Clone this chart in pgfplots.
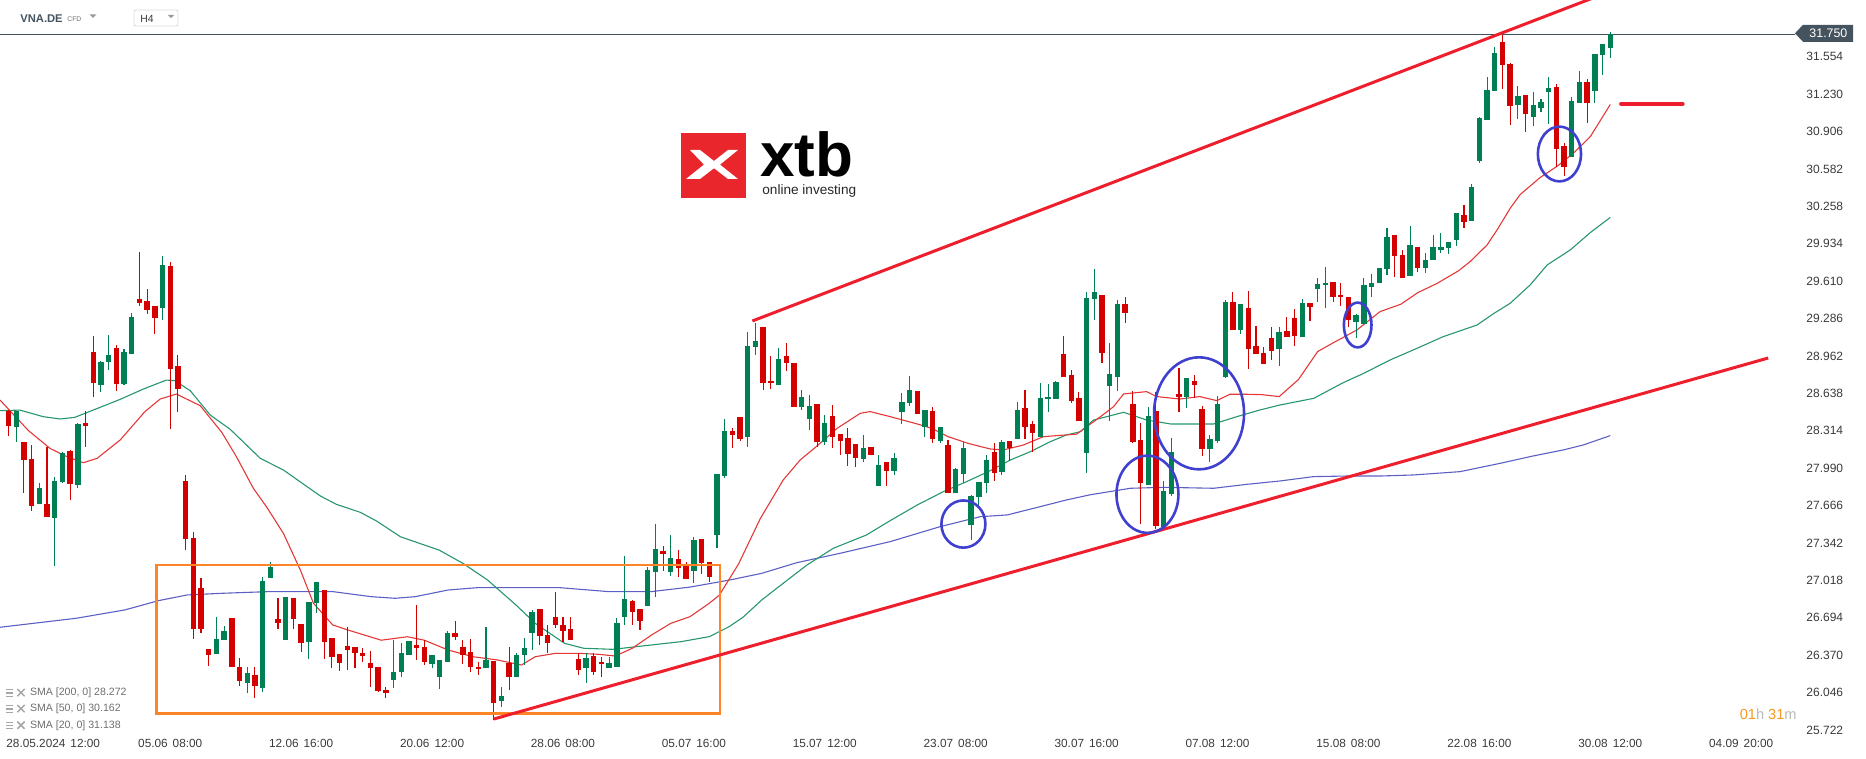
\documentclass[border=0pt]{standalone}
\usepackage{fontspec}
\setmainfont{Liberation Sans}
\usepackage{pgfplots}
\usepackage{pgfplotstable}
\pgfplotsset{compat=1.18}

\definecolor{cup}{RGB}{0,128,82}
\definecolor{cdown}{RGB}{212,0,0}
\definecolor{sma20}{RGB}{228,56,56}
\definecolor{sma50}{RGB}{40,150,108}
\definecolor{sma200}{RGB}{92,96,196}
\definecolor{trend}{RGB}{238,30,45}
\definecolor{boxorange}{RGB}{255,132,38}
\definecolor{ring}{RGB}{64,64,206}
\definecolor{axtext}{RGB}{58,58,58}
\definecolor{pricebox}{RGB}{69,83,94}
\definecolor{xtbred}{RGB}{232,38,44}
\definecolor{legtext}{RGB}{110,110,110}
\definecolor{timeor}{RGB}{247,150,30}
\definecolor{timegr}{RGB}{185,185,185}

% H4 candles, x = candle index (0 = 28.05 12:00), o h l c
\pgfplotstableread{
i o h l c
-3 28.349 28.485 28.219 28.485
0 27.682 27.861 27.682 27.818
2 27.561 27.913 27.145 27.879
3 27.873 28.130 27.860 28.121
5 27.847 28.381 27.821 28.372
8 28.713 28.918 28.652 28.910
9 28.912 29.143 28.840 28.970
11 28.722 29.022 28.713 28.996
12 28.981 29.334 28.975 29.299
16 29.380 29.827 29.276 29.749
23 26.383 26.698 26.383 26.510
24 26.502 26.623 26.502 26.583
27 26.127 26.271 26.046 26.213
29 26.089 27.050 26.054 27.013
30 27.042 27.180 27.040 27.137
32 26.502 26.871 26.502 26.871
35 26.487 26.834 26.334 26.834
36 26.820 27.007 26.739 27.007
46 26.156 26.502 26.083 26.228
47 26.228 26.473 26.184 26.386
48 26.372 26.496 26.372 26.496
51 26.294 26.372 26.256 26.372
52 26.178 26.329 26.075 26.329
53 26.314 26.583 26.314 26.565
58 26.256 26.612 26.256 26.329
60 25.976 26.098 25.924 26.017
62 26.178 26.386 26.178 26.372
63 26.372 26.516 26.285 26.430
64 26.560 26.762 26.415 26.747
71 26.256 26.386 26.132 26.343
74 26.256 26.357 26.256 26.300
75 26.271 26.689 26.271 26.646
76 26.704 27.229 26.632 26.857
79 26.799 27.137 26.799 27.108
80 27.094 27.506 26.871 27.290
82 27.094 27.411 27.059 27.212
85 27.102 27.397 26.992 27.368
88 27.411 27.940 27.296 27.940
89 27.923 28.416 27.908 28.312
92 28.263 29.173 28.177 29.049
93 29.043 29.245 28.971 29.092
96 28.714 29.028 28.714 28.933
99 28.523 28.667 28.494 28.604
100 28.413 28.621 28.321 28.529
102 28.220 28.451 28.191 28.379
107 28.067 28.278 28.046 28.162
109 27.839 28.104 27.839 28.018
111 27.969 28.119 27.931 28.078
112 28.480 28.639 28.373 28.566
113 28.558 28.788 28.529 28.667
115 28.350 28.494 28.257 28.494
117 28.229 28.350 28.211 28.350
119 27.778 27.989 27.778 27.983
120 27.937 28.220 27.859 28.168
121 27.498 27.758 27.368 27.749
122 27.744 27.870 27.671 27.870
123 27.865 28.104 27.772 28.061
125 27.960 28.234 27.931 28.220
127 28.243 28.566 28.243 28.494
130 28.263 28.731 28.263 28.601
131 28.586 28.719 28.480 28.609
132 28.592 28.748 28.592 28.737
136 28.125 29.519 27.951 29.461
137 29.453 29.715 29.274 29.519
139 28.702 29.072 28.402 28.806
140 28.783 29.447 28.662 29.412
144 27.845 28.517 27.845 28.442
146 27.484 27.879 27.460 27.796
147 27.767 28.249 27.749 28.127
149 28.604 28.774 28.509 28.774
152 28.156 28.278 28.041 28.240
153 28.229 28.615 28.205 28.546
154 28.783 29.447 28.768 29.432
156 29.187 29.412 29.152 29.412
161 29.022 29.216 28.875 29.173
164 29.129 29.453 29.129 29.424
166 29.539 29.635 29.432 29.586
167 29.574 29.730 29.375 29.591
171 29.259 29.326 29.115 29.317
172 29.239 29.635 29.239 29.577
173 29.562 29.672 29.476 29.591
174 29.591 29.727 29.591 29.727
175 29.712 30.068 29.663 29.990
178 29.655 30.088 29.655 29.923
180 29.721 29.851 29.677 29.793
181 29.793 30.010 29.793 29.909
182 29.880 30.030 29.857 29.903
183 29.900 29.946 29.845 29.946
184 29.966 30.197 29.917 30.197
186 30.134 30.452 30.134 30.423
187 30.654 31.035 30.636 31.026
188 31.006 31.381 31.006 31.266
189 31.260 31.641 31.260 31.589
192 31.136 31.300 31.014 31.214
194 31.035 31.251 30.954 31.136
195 31.107 31.185 31.078 31.165
196 31.251 31.375 30.971 31.280
199 30.688 31.202 30.688 31.170
200 31.156 31.433 31.156 31.335
202 31.260 31.577 31.150 31.577
203 31.572 31.664 31.393 31.664
204 31.629 31.765 31.540 31.750
}\up

\pgfplotstableread{
i o h l c
-4 28.485 28.494 28.271 28.358
-2 28.219 28.219 27.777 28.063
-1 28.069 28.190 27.622 27.665
1 27.679 28.173 27.570 27.570
4 28.138 28.147 27.717 27.855
6 28.381 28.485 28.176 28.358
7 28.996 29.134 28.609 28.730
10 29.031 29.057 28.661 28.722
13 29.455 29.862 29.397 29.423
14 29.438 29.542 29.328 29.363
15 29.394 29.394 29.155 29.293
17 29.741 29.775 28.332 28.852
18 28.875 28.970 28.479 28.678
19 27.879 27.930 27.284 27.379
20 27.385 27.440 26.510 26.594
21 26.949 27.036 26.560 26.594
22 26.424 26.424 26.277 26.372
25 26.692 26.692 26.271 26.271
26 26.271 26.343 26.106 26.147
28 26.199 26.271 26.002 26.106
31 26.684 26.863 26.594 26.646
33 26.863 26.863 26.594 26.684
34 26.640 26.640 26.401 26.479
37 26.935 26.935 26.334 26.487
38 26.522 26.522 26.256 26.357
39 26.381 26.381 26.236 26.300
40 26.450 26.612 26.242 26.415
41 26.444 26.444 26.256 26.386
42 26.386 26.430 26.314 26.363
43 26.306 26.409 26.098 26.256
44 26.271 26.271 26.055 26.063
45 26.069 26.098 25.997 26.046
49 26.458 26.805 26.329 26.435
50 26.444 26.502 26.285 26.314
54 26.565 26.669 26.502 26.531
55 26.444 26.502 26.294 26.372
56 26.401 26.508 26.228 26.265
57 26.271 26.314 26.199 26.248
59 26.323 26.323 25.809 25.959
61 26.300 26.438 26.069 26.184
65 26.767 26.767 26.458 26.536
66 26.545 26.632 26.386 26.473
67 26.698 26.920 26.603 26.632
68 26.632 26.700 26.487 26.583
69 26.594 26.700 26.502 26.502
70 26.334 26.386 26.199 26.242
72 26.363 26.386 26.199 26.227
73 26.314 26.357 26.184 26.294
77 26.837 26.850 26.632 26.747
78 26.770 26.770 26.588 26.669
81 27.272 27.316 27.102 27.249
83 27.203 27.281 27.050 27.122
84 27.143 27.174 27.033 27.033
86 27.377 27.377 27.070 27.172
87 27.174 27.174 27.007 27.050
90 28.312 28.335 28.168 28.278
91 28.434 28.434 28.229 28.243
94 29.216 29.216 28.667 28.731
95 28.745 28.962 28.673 28.725
97 28.962 29.072 28.835 28.898
98 28.898 28.898 28.517 28.517
101 28.543 28.543 28.177 28.220
103 28.442 28.537 28.162 28.263
104 28.284 28.284 28.104 28.229
105 28.249 28.335 28.012 28.113
106 28.200 28.200 27.997 28.081
108 28.177 28.177 28.104 28.104
110 28.041 28.041 27.839 27.969
114 28.659 28.659 28.457 28.457
116 28.486 28.517 28.211 28.240
118 28.191 28.234 27.778 27.778
124 28.133 28.211 27.882 27.946
126 28.226 28.226 28.055 28.168
128 28.509 28.667 28.243 28.350
129 28.370 28.399 28.128 28.298
133 28.979 29.138 28.777 28.777
134 28.797 28.841 28.558 28.575
135 28.595 28.653 28.402 28.402
138 29.490 29.490 28.898 28.991
141 29.412 29.470 29.251 29.337
142 28.546 28.662 28.211 28.220
143 28.234 28.379 27.507 27.859
145 28.486 28.653 27.460 27.489
148 28.633 28.855 28.480 28.610
150 28.745 28.797 28.595 28.711
151 28.503 28.532 28.099 28.156
155 29.432 29.519 29.187 29.187
157 29.375 29.528 28.849 29.022
158 29.048 29.222 28.979 28.979
159 28.991 29.043 28.893 28.893
160 29.115 29.210 28.927 29.008
162 29.178 29.297 29.129 29.129
163 29.288 29.366 29.048 29.135
165 29.424 29.424 29.268 29.389
168 29.600 29.600 29.432 29.476
169 29.490 29.591 29.395 29.470
170 29.470 29.470 29.216 29.274
176 30.010 30.010 29.643 29.828
177 29.837 29.880 29.634 29.634
179 29.903 29.903 29.692 29.721
185 30.183 30.270 30.068 30.125
190 31.684 31.742 31.274 31.482
191 31.491 31.502 30.963 31.127
193 31.222 31.222 30.905 31.058
197 31.289 31.318 30.602 30.755
198 30.781 30.804 30.521 30.602
201 31.335 31.358 30.977 31.156
}\down

% moving averages
\pgfplotstableread{
i v
-5.1 28.58
-1.4 28.315
1.4 28.161
3.6 28.089
5.7 28.037
7.5 28.075
10.5 28.234
13.7 28.479
15.7 28.589
17.8 28.632
20.9 28.531
23.7 28.300
25.6 28.089
27.8 27.815
29.5 27.656
31.7 27.425
33.9 27.108
35.6 26.820
38.1 26.632
40.0 26.590
44.4 26.500
47.8 26.530
50.0 26.500
53.1 26.415
56.3 26.357
59.4 26.330
62.6 26.285
64.4 26.357
67.0 26.386
70.1 26.386
72.6 26.378
74.8 26.363
77.0 26.430
79.5 26.545
82.0 26.646
84.5 26.704
87.0 26.820
88.3 26.890
90.8 27.160
93.6 27.550
96.6 27.888
98.8 28.061
100.9 28.177
103.6 28.335
106.6 28.465
107.9 28.480
110.5 28.436
114.0 28.373
115.9 28.335
118.0 28.263
120.6 28.205
123.5 28.156
125.2 28.148
127.8 28.191
130.4 28.263
134.7 28.285
137.8 28.436
139.5 28.523
140.8 28.633
143.8 28.653
145.1 28.610
148.1 28.589
150.7 28.610
152.9 28.575
154.6 28.630
156.8 28.630
158.7 28.627
161.0 28.610
163.5 28.757
166.0 29.000
168.0 29.075
171.1 29.187
174.1 29.346
176.8 29.410
179.0 29.510
181.5 29.590
184.3 29.700
185.8 29.779
188.0 29.923
189.3 30.053
191.0 30.241
192.3 30.360
194.9 30.508
197.2 30.610
199.2 30.717
201.4 30.861
204.0 31.140
}\smaT

\pgfplotstableread{
i v
-5.1 28.488
-2.5 28.493
0.5 28.436
2.7 28.416
4.6 28.430
7.9 28.517
10.5 28.586
13.5 28.675
16.5 28.753
17.6 28.748
19.6 28.661
22.2 28.450
24.8 28.326
28.7 28.075
31.7 27.974
36.5 27.749
38.6 27.676
41.7 27.607
43.8 27.532
46.9 27.396
48.1 27.368
51.9 27.281
55.0 27.166
58.2 27.022
61.9 26.805
64.4 26.646
68.2 26.473
70.7 26.430
74.5 26.421
78.3 26.450
83.3 26.487
87.0 26.531
89.6 26.618
91.4 26.700
93.8 26.848
96.6 26.993
99.7 27.152
103.1 27.296
107.4 27.411
110.5 27.536
114.0 27.671
117.4 27.787
120.4 27.873
123.5 27.969
126.1 28.061
128.7 28.133
131.3 28.220
133.4 28.278
135.2 28.306
136.9 28.407
138.6 28.436
140.8 28.474
143.8 28.407
146.9 28.373
152.5 28.373
155.5 28.436
158.5 28.494
161.1 28.537
165.5 28.595
169.3 28.730
172.0 28.812
175.4 28.927
178.9 29.028
182.3 29.129
186.7 29.230
188.9 29.331
191.0 29.418
193.6 29.577
195.8 29.750
198.8 29.880
201.4 30.030
204.0 30.162
}\smaF

\pgfplotstableread{
i v
-5.1 26.612
4.8 26.690
11.1 26.762
15.5 26.843
19.2 26.892
23.6 26.906
29.9 26.921
38.1 26.921
43.1 26.877
46.2 26.863
48.8 26.877
53.1 26.935
56.9 26.955
67.6 26.955
73.9 26.921
79.5 26.921
84.5 26.960
89.7 27.022
93.8 27.079
98.4 27.172
104.0 27.253
110.5 27.354
117.0 27.484
122.2 27.570
125.7 27.585
129.1 27.642
133.4 27.715
136.5 27.760
141.7 27.816
146.0 27.824
152.5 27.816
156.8 27.850
161.1 27.879
165.5 27.917
169.8 27.922
174.1 27.922
178.4 27.931
184.5 27.960
189.7 28.032
194.0 28.096
197.9 28.148
200.5 28.191
204.0 28.272
}\smaH

\begin{document}
\begin{tikzpicture}[x=1pt,y=1pt]
\useasboundingbox (0,0) rectangle (933,379.5);
\begin{axis}[
  at={(0pt,12pt)}, anchor=south west,
  scale only axis, width=897.5pt, height=367.5pt,
  xmin=-5.104, xmax=227.99, ymin=25.679, ymax=32.045,
  axis line style={draw=none},
  major tick length=0pt,
  ytick={25.722,26.046,26.370,26.694,27.018,27.342,27.666,27.990,28.314,28.638,28.962,29.286,29.610,29.934,30.258,30.582,30.906,31.230,31.554},
  yticklabel pos=right,
  yticklabel style={anchor=west, inner sep=0pt, xshift=5.5pt, text=axtext, font=\fontsize{6}{7}\selectfont},
  /pgf/number format/fixed, /pgf/number format/fixed zerofill,
  /pgf/number format/precision=3, /pgf/number format/assume math mode=true,
  xtick={17,34,51,68,85,102,119,136,153,170,187,204,221},
  xticklabels={05.06\hspace{2.5pt}08:00, 12.06\hspace{2.5pt}16:00, 20.06\hspace{2.5pt}12:00,
    28.06\hspace{2.5pt}08:00, 05.07\hspace{2.5pt}16:00, 15.07\hspace{2.5pt}12:00,
    23.07\hspace{2.5pt}08:00, 30.07\hspace{2.5pt}16:00, 07.08\hspace{2.5pt}12:00,
    15.08\hspace{2.5pt}08:00, 22.08\hspace{2.5pt}16:00, 30.08\hspace{2.5pt}12:00,
    04.09\hspace{2.5pt}20:00},
  xticklabel style={anchor=center, inner sep=0pt, yshift=-4pt, text=axtext, font=\fontsize{5.9}{7}\selectfont},
  clip=true,
  candle/.style={draw=none, mark=none, forget plot,
    error bars/.cd, y dir=both, y explicit, error mark=none,
    error bar style={line cap=butt, #1}},
]
% current price line
\draw[pricebox, line width=0.5pt] (axis cs:-6,31.75) -- (axis cs:229,31.75);

% moving averages
\addplot[sma200, line width=0.55pt] table[x=i, y=v] {\smaH};
\addplot[sma50, line width=0.55pt] table[x=i, y=v] {\smaF};
\addplot[sma20, line width=0.55pt] table[x=i, y=v] {\smaT};

% wicks
\addplot[candle={draw=cup, line width=0.55pt}]
  table[x=i, y expr={0.5*(\thisrow{h}+\thisrow{l})}, y error expr={0.5*(\thisrow{h}-\thisrow{l})}] {\up};
\addplot[candle={draw=cdown, line width=0.55pt}]
  table[x=i, y expr={0.5*(\thisrow{h}+\thisrow{l})}, y error expr={0.5*(\thisrow{h}-\thisrow{l})}] {\down};
% bodies
\addplot[candle={draw=cup, line width=2.7pt}]
  table[x=i, y expr={0.5*(\thisrow{o}+\thisrow{c})}, y error expr={0.5*abs(\thisrow{c}-\thisrow{o})}] {\up};
\addplot[candle={draw=cdown, line width=2.7pt}]
  table[x=i, y expr={0.5*(\thisrow{o}+\thisrow{c})}, y error expr={0.5*abs(\thisrow{c}-\thisrow{o})}] {\down};

% consolidation box
\draw[boxorange, line width=1.4pt] (axis cs:15.2,25.867) rectangle (axis cs:88.4,27.151);

% channel
\addplot[trend, line width=1.5pt] coordinates {(92.6,29.265) (210,32.274)};
\addplot[trend, line width=1.5pt] coordinates {(59.0,25.817) (224.5,28.944)};
\addplot[trend, line width=2pt, line cap=round] coordinates {(205.4,31.145) (213.4,31.145)};

% marked retests
\draw[ring, line width=1.3pt] (axis cs:120.0,27.506) ellipse [x radius=11pt, y radius=11.8pt];
\draw[ring, line width=1.3pt] (axis cs:143.9,27.764) ellipse [x radius=15.5pt, y radius=19.3pt];
\draw[ring, line width=1.3pt] (axis cs:150.6,28.465) ellipse [x radius=22.5pt, y radius=28pt];
\draw[ring, line width=1.3pt] (axis cs:171.2,29.230) ellipse [x radius=6.9pt, y radius=11.2pt];
\draw[ring, line width=1.3pt] (axis cs:197.4,30.711) ellipse [x radius=10.8pt, y radius=13.7pt];
\end{axis}

% first date label, kept inside the frame
\node[anchor=west, inner sep=0pt, text=axtext, font=\fontsize{5.9}{7}\selectfont] at (3,8) {28.05.2024\hspace{2.5pt}12:00};

% current price tag
\fill[pricebox] (897.5,362.85) -- (901.5,367.1) -- (926.5,367.1) -- (926.5,358.6) -- (901.5,358.6) -- cycle;
\node[text=white, inner sep=0pt, font=\fontsize{6.2}{7}\selectfont] at (914.2,362.85) {31.750};

% candle timer
\node[anchor=east, inner sep=0pt, font=\fontsize{7.3}{8}\selectfont] at (898.5,22.5)
  {\textcolor{timeor}{01}\textcolor{timegr}{h}\hspace{2pt}\textcolor{timeor}{31}\textcolor{timegr}{m}};

% header
\node[anchor=base west, inner sep=0pt, text=pricebox, font=\bfseries\fontsize{5.6}{6}\selectfont] at (10,368) {VNA.DE};
\node[anchor=base west, inner sep=0pt, text=legtext, font=\fontsize{3.4}{4}\selectfont] at (33.5,368.6) {CFD};
\fill[black!40] (44.8,372.3) -- (48.2,372.3) -- (46.5,370.6) -- cycle;
\draw[black!15, line width=0.4pt, rounded corners=1pt] (67,366.5) rectangle (89,374.5);
\node[anchor=base west, inner sep=0pt, text=axtext, font=\fontsize{5.2}{6}\selectfont] at (70,368.2) {H4};
\fill[black!40] (83.8,372.1) -- (87.2,372.1) -- (85.5,370.4) -- cycle;

% legend of moving averages
\foreach \yy/\txt in {33/{SMA [200, 0] 28.272}, 25/{SMA [50, 0] 30.162}, 16.7/{SMA [20, 0] 31.138}} {
  \draw[black!35, line width=0.55pt] (3,\yy+1.6) -- (6.6,\yy+1.6) (3,\yy) -- (6.6,\yy) (3,\yy-1.6) -- (6.6,\yy-1.6);
  \draw[black!35, line width=0.75pt] (8.7,\yy+2) -- (12.3,\yy-1.6) (8.7,\yy-1.6) -- (12.3,\yy+2);
  \node[anchor=west, inner sep=0pt, text=legtext, font=\fontsize{5.3}{6}\selectfont] at (14.8,\yy) {\txt};
}

% logo
\fill[xtbred] (340.5,280.5) rectangle (373,313);
\fill[white] (345,304.5) -- (350,304.5) -- (357,299) -- (364,304.5) -- (369,304.5) -- (360,297.2)
  -- (369,290) -- (364,290) -- (357,295.4) -- (350,290) -- (343,290) -- (352,297.2) -- cycle;
\node[anchor=base west, inner sep=0pt, text depth=0pt, font=\bfseries\fontsize{31}{32}\selectfont] at (380,291) {xtb};
\node[anchor=base west, inner sep=0pt, text height=4.5pt, text=black!85, font=\fontsize{6.8}{7}\selectfont] at (381,282.2) {online investing};
\end{tikzpicture}
\end{document}
